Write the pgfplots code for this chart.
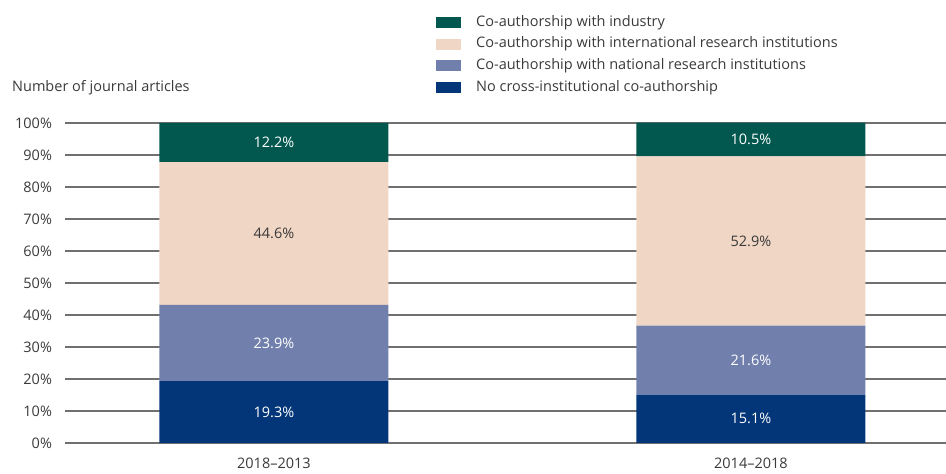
\documentclass[border=0pt]{standalone}
\usepackage{pgfplots}
\pgfplotsset{compat=1.18}
\usepackage{fontspec}
\setmainfont{Open Sans}
\definecolor{cgreen}{HTML}{02584F}
\definecolor{cpeach}{HTML}{F0D6C4}
\definecolor{clav}{HTML}{717FAD}
\definecolor{cnavy}{HTML}{033678}
\definecolor{tgray}{HTML}{3A3A3A}
\definecolor{ggray}{HTML}{707070}
\begin{document}
\fontsize{14.5bp}{17bp}\selectfont
\begin{tikzpicture}
\useasboundingbox (0,0) rectangle (946bp,474bp);
\begin{axis}[
  at={(65bp,31bp)}, anchor=south west,
  width=881bp, height=320bp, scale only axis,
  clip=false,
  xmin=-0.438, xmax=1.409, ymin=0, ymax=100,
  ybar stacked, bar width=229bp,
  xtick={0,1}, xticklabels={2018--2013,2014--2018},
  ytick={0,10,...,100},
  yticklabel={\pgfmathprintnumber{\tick}\%},
  /pgf/number format/assume math mode=true,
  major tick length=0pt,
  ymajorgrids, grid style={ggray, line width=1.1bp},
  axis x line*=bottom, axis y line*=left,
  y axis line style={draw=none},
  x axis line style={draw=ggray, line width=2.4bp, -},
  tick label style={text=tgray},
  xticklabel style={yshift=-10bp},
  yticklabel style={xshift=-8bp},
  every axis plot post/.append style={
    legend image code/.code={\fill[##1] (0bp,-5.5bp) rectangle (24.5bp,5.5bp);}},
  reverse legend,
  legend cell align=left,
  legend style={at={(axis description cs:0.4211,1.3375)}, anchor=north west,
    draw=none, fill=none, inner sep=0pt, row sep=7.2bp,
    nodes={inner sep=0pt, text=tgray, text height=11bp, text depth=3.5bp},
    /tikz/every odd column/.style={column sep=15.5bp}},
  nodes near coords={\pgfmathprintnumber[fixed,fixed zerofill,precision=1]{\pgfplotspointmeta}\%},
  every node near coord/.append style={anchor=center, text=white},
]
\addplot[fill=cnavy, draw=none] coordinates {(0,19.3) (1,15.1)};
\addplot[fill=clav, draw=none] coordinates {(0,23.9) (1,21.6)};
\addplot[fill=cpeach, draw=none, every node near coord/.append style={text=tgray}] coordinates {(0,44.6) (1,52.9)};
\addplot[fill=cgreen, draw=none] coordinates {(0,12.2) (1,10.5)};
\legend{No cross-institutional co-authorship, Co-authorship with national research institutions, Co-authorship with international research institutions, Co-authorship with industry}
\node[anchor=base west, inner sep=0pt, text=tgray] at (axis description cs:-0.0602,1.097) {Number of journal articles};
\end{axis}
\end{tikzpicture}
\end{document}
